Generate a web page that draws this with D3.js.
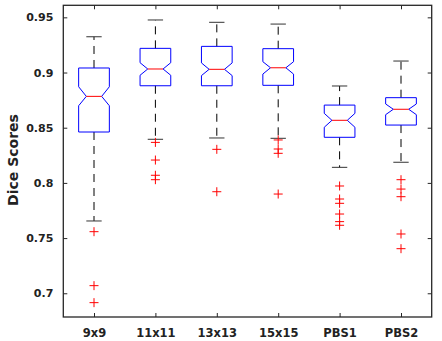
<!DOCTYPE html>
<html>
<head>
<meta charset="utf-8">
<script src="https://cdn.jsdelivr.net/npm/d3@7"></script>
<style>
  html, body { margin: 0; padding: 0; background: #fff; }
  svg { display: block; }
  text { font-family: "DejaVu Sans", sans-serif; font-weight: bold; fill: #222; }
</style>
</head>
<body>
<svg id="chart" width="442" height="341"></svg>
<script>
// ---- data ----
const categories = ["9x9", "11x11", "13x13", "15x15", "PBS1", "PBS2"];
const whiskerHigh = [0.9324, 0.9476, 0.9455, 0.9439, 0.8878, 0.9104];
const q3Values    = [0.9041, 0.9219, 0.9237, 0.9216, 0.8705, 0.8772];
const notchHigh   = [0.8871, 0.9089, 0.9087, 0.9098, 0.8630, 0.8715];
const medians     = [0.8784, 0.9032, 0.9029, 0.9043, 0.8567, 0.8667];
const notchLow    = [0.8699, 0.8975, 0.8972, 0.8986, 0.8504, 0.8618];
const q1Values    = [0.8461, 0.8880, 0.8880, 0.8884, 0.8413, 0.8524];
const whiskerLow  = [0.7655, 0.8395, 0.8407, 0.8404, 0.8141, 0.8187];
const outliers = [
  [0.7558, 0.7069, 0.6915],
  [0.8367, 0.8207, 0.8069, 0.8029],
  [0.8304, 0.7920],
  [0.8389, 0.8307, 0.8268, 0.7899],
  [0.7972, 0.7854, 0.7815, 0.7718, 0.7649, 0.7616],
  [0.8029, 0.7944, 0.7875, 0.7537, 0.7404]
];
const yTickValues = [0.7, 0.75, 0.8, 0.85, 0.9, 0.95];
const yTickLabels = ["0.7", "0.75", "0.8", "0.85", "0.9", "0.95"];
const yDomain = [0.6785, 0.9609];
const yAxisLabel = "Dice Scores";

// ---- layout ----
const svg = d3.select("#chart");
const padL = 63.3, padR = 431.7, padT = 5.3, padB = 317;

const x = d3.scaleLinear().domain([0.5, categories.length + 0.5]).range([padL, padR]);
const y = d3.scaleLinear().domain(yDomain).range([padB, padT]);

const boxHalf = (x(1.25) - x(1));      // half box width = 0.25 units
const notchIn = boxHalf / 2;            // notch narrows to half width
const capHalf = boxHalf / 2;

const g = svg.append("g");
const positions = d3.range(1, categories.length + 1);

const xAxis = d3.axisBottom(x)
  .tickValues(positions)
  .tickFormat(i => categories[i - 1])
  .tickSizeInner(-4).tickSizeOuter(0).tickPadding(12);
const yAxis = d3.axisLeft(y)
  .tickValues(yTickValues)
  .tickFormat((d, i) => yTickLabels[i])
  .tickSizeInner(-4).tickSizeOuter(0).tickPadding(10);

const gx = g.append("g").attr("transform", `translate(0,${padB})`).call(xAxis);
const gy = g.append("g").attr("transform", `translate(${padL},0)`).call(yAxis);
const gxTop = g.append("g").attr("transform", `translate(0,${padT})`)
  .call(d3.axisTop(x).tickValues(positions).tickFormat("").tickSizeInner(-4).tickSizeOuter(0));
const gyRight = g.append("g").attr("transform", `translate(${padR},0)`)
  .call(d3.axisRight(y).tickValues(yTickValues).tickFormat("").tickSizeInner(-4).tickSizeOuter(0));

[gx, gy, gxTop, gyRight].forEach(a => {
  a.select(".domain").remove();
  a.selectAll(".tick line").attr("stroke", "#262626").attr("stroke-width", 1);
});
gx.selectAll(".tick text")
  .attr("font-size", 11.5).attr("font-family", "DejaVu Sans")
  .attr("font-weight", "bold").attr("fill", "#262626");
gy.selectAll(".tick text")
  .attr("font-size", 11).attr("font-family", "DejaVu Sans")
  .attr("font-weight", "bold").attr("fill", "#262626");

g.append("rect")
  .attr("x", padL).attr("y", padT)
  .attr("width", padR - padL).attr("height", padB - padT)
  .attr("fill", "none").attr("stroke", "#262626").attr("stroke-width", 1.3);

svg.append("text")
  .attr("transform", `translate(18,160) rotate(-90)`)
  .attr("text-anchor", "middle")
  .attr("font-size", 14)
  .attr("fill", "#262626")
  .text(yAxisLabel);

const marks = svg.append("g");
categories.forEach((c, i) => {
  const cx = x(i + 1);
  marks.append("line")
    .attr("x1", cx).attr("x2", cx)
    .attr("y1", y(q3Values[i])).attr("y2", y(whiskerHigh[i]))
    .attr("stroke", "#000").attr("stroke-width", 1).attr("stroke-dasharray", "8,6");
  marks.append("line")
    .attr("x1", cx).attr("x2", cx)
    .attr("y1", y(q1Values[i])).attr("y2", y(whiskerLow[i]))
    .attr("stroke", "#000").attr("stroke-width", 1).attr("stroke-dasharray", "8,6");
  [whiskerHigh[i], whiskerLow[i]].forEach(v => {
    marks.append("line")
      .attr("x1", cx - capHalf).attr("x2", cx + capHalf)
      .attr("y1", y(v)).attr("y2", y(v))
      .attr("stroke", "#333").attr("stroke-width", 1);
  });
  const pts = [
    [cx - boxHalf, y(q3Values[i])],
    [cx + boxHalf, y(q3Values[i])],
    [cx + boxHalf, y(notchHigh[i])],
    [cx + boxHalf - notchIn, y(medians[i])],
    [cx + boxHalf, y(notchLow[i])],
    [cx + boxHalf, y(q1Values[i])],
    [cx - boxHalf, y(q1Values[i])],
    [cx - boxHalf, y(notchLow[i])],
    [cx - boxHalf + notchIn, y(medians[i])],
    [cx - boxHalf, y(notchHigh[i])]
  ];
  marks.append("path")
    .attr("d", d3.line()(pts) + "Z")
    .attr("fill", "none").attr("stroke", "#0000ff").attr("stroke-width", 1);
  marks.append("line")
    .attr("x1", cx - boxHalf + notchIn).attr("x2", cx + boxHalf - notchIn)
    .attr("y1", y(medians[i])).attr("y2", y(medians[i]))
    .attr("stroke", "#ff0000").attr("stroke-width", 1);
  outliers[i].forEach(v => {
    const py = y(v);
    marks.append("path")
      .attr("d", `M${cx - 4.5},${py}H${cx + 4.5}M${cx},${py - 4.5}V${py + 4.5}`)
      .attr("stroke", "#ff0000").attr("stroke-width", 1).attr("fill", "none");
  });
});
</script>
</body>
</html>
